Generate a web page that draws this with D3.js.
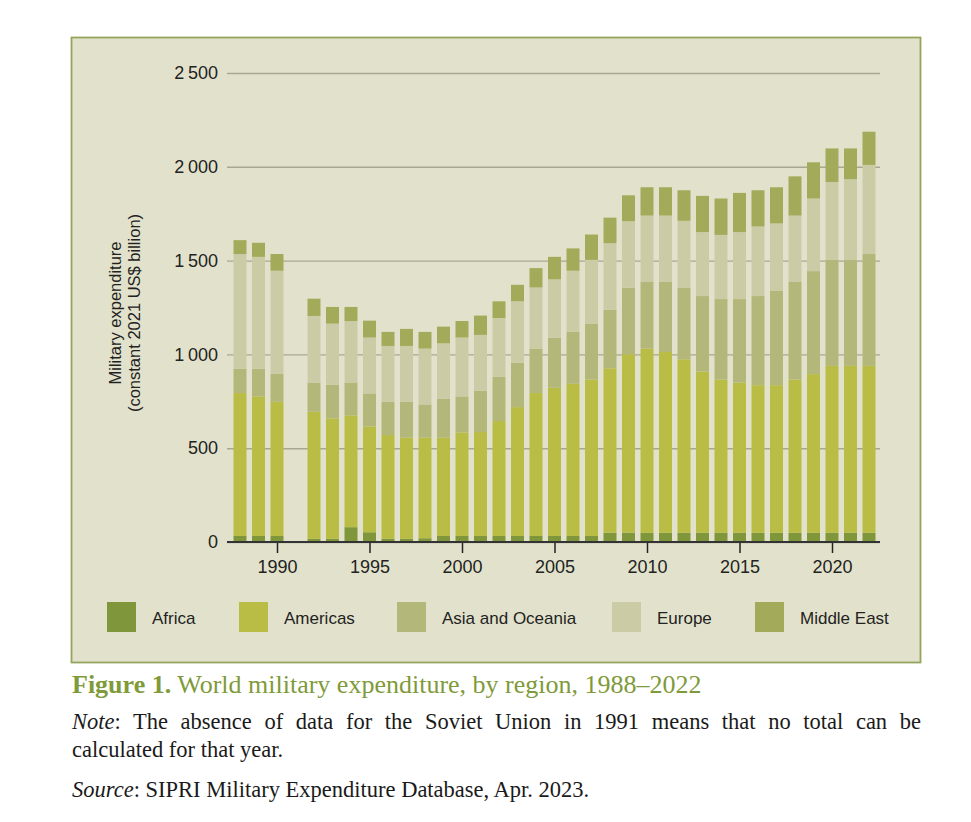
<!DOCTYPE html>
<html>
<head>
<meta charset="utf-8">
<script src="https://cdn.jsdelivr.net/npm/d3@7"></script>
<style>
  body { margin: 0; background: #fff; }
  svg { display: block; }
</style>
</head>
<body>
<script>
// SIPRI world military expenditure by region, 1991 missing
var years = [1988, 1989, 1990,
    1992, 1993, 1994, 1995, 1996, 1997, 1998, 1999, 2000, 2001, 2002, 2003, 2004, 2005,
    2006, 2007, 2008, 2009, 2010, 2011, 2012, 2013, 2014, 2015, 2016, 2017, 2018, 2019,
    2020, 2021, 2022];

var africa = [32, 32, 32,
    17, 17, 79, 52, 17, 17, 20, 32, 32, 32, 32, 32, 32, 32,
    32, 32, 50, 50, 49, 49, 49, 49, 49, 49, 49, 49, 49, 49,
    49, 49, 49];
var americas = [762, 744, 715,
    677, 642, 596, 564, 553, 539, 536, 524, 552, 554, 613, 687, 762, 790,
    811, 834, 876, 951, 982, 964, 925, 860, 817, 801, 787, 787, 817, 846,
    890, 890, 890];
var asia = [130, 148, 149,
    156, 179, 175, 176, 177, 191, 177, 207, 192, 220, 235, 237, 237, 267,
    277, 296, 312, 354, 355, 373, 380, 402, 429, 445, 475, 502, 520, 549,
    564, 564, 596];
var europe = [611, 596, 550,
    355, 326, 328, 298, 298, 298, 298, 296, 314, 298, 314, 327, 326, 311,
    326, 342, 355, 355, 354, 354, 358, 341, 342, 357, 371, 360, 354, 387,
    416, 431, 475];
var middleEast = [74, 75, 89,
    92, 89, 75, 90, 75, 91, 89, 89, 88, 103, 89, 88, 103, 120,
    119, 135, 136, 138, 151, 151, 163, 193, 194, 209, 193, 193, 209, 193,
    179, 164, 177];

var regions = ["Africa", "Americas", "Asia and Oceania", "Europe", "Middle East"];
var colors = ["#80963a", "#b9bc45", "#b4b77a", "#cbcba6", "#a3aa59"];
var yTicks = [0, 500, 1000, 1500, 2000, 2500];
var xTicks = [1990, 1995, 2000, 2005, 2010, 2015, 2020];

var rows = years.map(function (y, i) {
    return {
        year: y,
        "Africa": africa[i],
        "Americas": americas[i],
        "Asia and Oceania": asia[i],
        "Europe": europe[i],
        "Middle East": middleEast[i]
    };
});

var width = 971, height = 822;
var sans = "'Liberation Sans', Arial, sans-serif";
var serif = "'Liberation Serif', 'Times New Roman', serif";

var svg = d3.select("body").append("svg")
    .attr("width", width)
    .attr("height", height);

// panel
svg.append("rect")
    .attr("x", 71.5).attr("y", 37.5)
    .attr("width", 849).attr("height", 625)
    .attr("fill", "#e2e2cc")
    .attr("stroke", "#97a55c")
    .attr("stroke-width", 1.8);

var x = d3.scaleLinear().domain([1990, 2020]).range([277, 832]);
var y = d3.scaleLinear().domain([0, 2500]).range([542, 73]);
var barW = 13;

// y axis + gridlines
var fmt = d3.formatLocale({ decimal: ".", thousands: "\u2009", grouping: [3], currency: ["", ""] }).format(",d");
var yAxis = svg.append("g")
    .attr("transform", "translate(227,0)")
    .call(d3.axisLeft(y).tickValues(yTicks).tickSize(-653).tickPadding(9).tickFormat(fmt));
yAxis.select(".domain").remove();
yAxis.selectAll(".tick line").attr("stroke", "#a8a892").attr("stroke-width", 1.4);
yAxis.selectAll(".tick text")
    .attr("font-family", sans).attr("font-size", 18).attr("fill", "#222");

// stacked bars
var stack = d3.stack().keys(regions);
var layers = svg.append("g").selectAll("g")
    .data(stack(rows))
    .enter()
    .append("g")
    .attr("fill", function (d, i) { return colors[i]; });

layers.selectAll("rect")
    .data(function (d) { return d; })
    .enter()
    .append("rect")
    .attr("x", function (d) { return x(d.data.year) - barW / 2; })
    .attr("width", barW)
    .attr("y", function (d) { return y(d[1]); })
    .attr("height", function (d) { return y(d[0]) - y(d[1]); });

// x axis
var xAxis = svg.append("g")
    .attr("transform", "translate(0,542)")
    .call(d3.axisBottom(x).tickValues(xTicks).tickSize(11).tickPadding(7).tickFormat(d3.format("d")));
xAxis.select(".domain").remove();
xAxis.selectAll(".tick line").attr("stroke", "#222").attr("stroke-width", 1.5);
xAxis.selectAll(".tick text")
    .attr("font-family", sans).attr("font-size", 18).attr("fill", "#222");
svg.append("line")
    .attr("x1", 227).attr("x2", 880)
    .attr("y1", 542).attr("y2", 542)
    .attr("stroke", "#333").attr("stroke-width", 2);

// y title
var yt = svg.append("text")
    .attr("transform", "translate(0,313) rotate(-90)")
    .attr("text-anchor", "middle")
    .attr("font-family", sans).attr("font-size", 16.5).attr("fill", "#222");
yt.append("tspan").attr("x", 0).attr("y", 121).text("Military expenditure");
yt.append("tspan").attr("x", 0).attr("y", 140).text("(constant 2021 US$ billion)");

// legend
var legendX = [107, 239, 397, 612, 755];
var legend = svg.append("g").selectAll("g")
    .data(regions)
    .enter()
    .append("g")
    .attr("transform", function (d, i) { return "translate(" + legendX[i] + ",602)"; });
legend.append("rect")
    .attr("width", 29).attr("height", 30)
    .attr("fill", function (d, i) { return colors[i]; });
legend.append("text")
    .attr("x", 45).attr("y", 16).attr("dy", "0.35em")
    .attr("font-family", sans).attr("font-size", 17).attr("fill", "#222")
    .text(function (d) { return d; });

// caption
var cap = svg.append("text")
    .attr("x", 72).attr("y", 693)
    .attr("font-family", serif).attr("font-size", 26).attr("fill", "#7f9a3a");
cap.append("tspan").attr("font-weight", "bold").text("Figure 1.");
cap.append("tspan").text(" World military expenditure, by region, 1988\u20132022");

function noteLine(yPos, label, rest, justify) {
    var t = svg.append("text")
        .attr("x", 72).attr("y", yPos)
        .attr("font-family", serif).attr("font-size", 22.5).attr("fill", "#1a1a1a");
    if (label) t.append("tspan").attr("font-style", "italic").text(label);
    t.append("tspan").text(rest);
    if (justify) {
        var w = t.node().getComputedTextLength();
        var n = (label + rest).split(" ").length - 1;
        t.attr("word-spacing", (justify - w) / n);
    }
    return t;
}
noteLine(729, "Note", ": The absence of data for the Soviet Union in 1991 means that no total can be", 849);
noteLine(757, "", "calculated for that year.", 0);
noteLine(797, "Source", ": SIPRI Military Expenditure Database, Apr. 2023.", 0);
</script>
</body>
</html>
